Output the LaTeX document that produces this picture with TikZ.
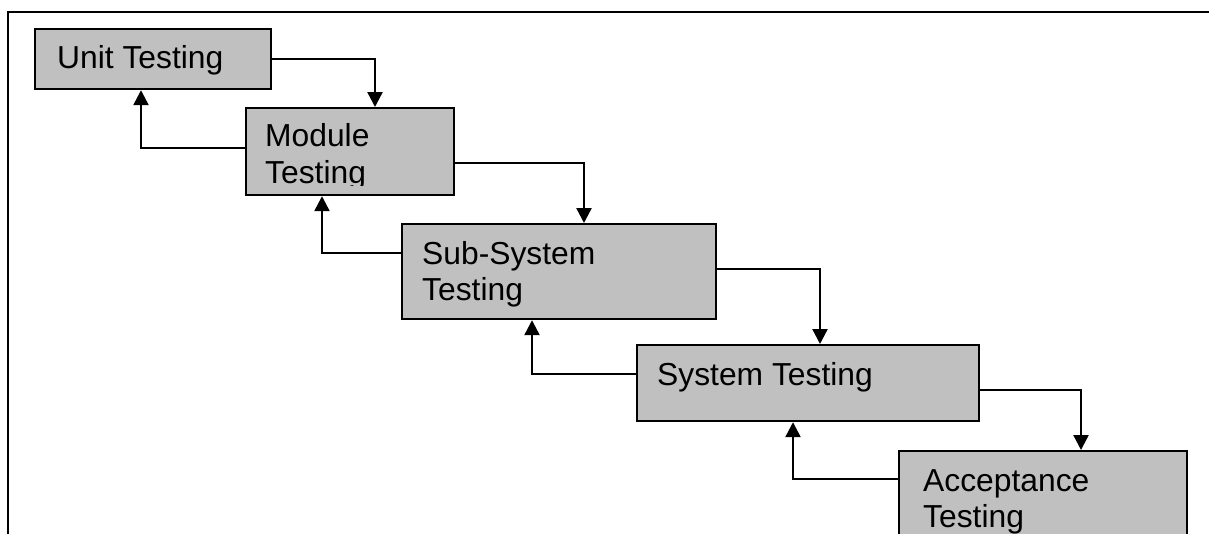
\documentclass[tikz,border=0pt]{standalone}
\usepackage{fontspec}
\setmainfont{Liberation Sans}
\usetikzlibrary{arrows.meta,calc}
\definecolor{stagegray}{HTML}{C0C0C0}
\tikzset{
  stagebox/.style={draw=black, line width=2.2pt, fill=stagegray, rectangle,
    inner sep=0pt, anchor=north west},
  stagetext/.style={anchor=base west, inner sep=0pt,
    font=\fontsize{31.8}{37}\selectfont, text=black},
  flow/.style={draw=black, line width=2.4pt,
    -{Triangle[length=15pt,width=15pt]}},
  frameline/.style={draw=black, line width=1.8pt},
}
\begin{document}
\begin{tikzpicture}[x=1pt,y=-1pt]
\useasboundingbox (0,0) rectangle (1209,533);
\clip (0,0) rectangle (1209,533);

% surrounding frame (left and top edges)
\coordinate (fb) at (8,545);
\coordinate (fc) at (8,12);
\coordinate (fr) at (1220,12);
\draw[frameline] (fb) -- (fc) -- (fr);

% stage boxes
\node[stagebox, minimum width=236pt, minimum height=60pt]  (unit) at (34,28)   {};
\node[stagebox, minimum width=208pt, minimum height=87pt]  (mod)  at (245,107) {};
\node[stagebox, minimum width=314pt, minimum height=95pt]  (sub)  at (401,223) {};
\node[stagebox, minimum width=342pt, minimum height=76pt]  (sys)  at (636,344) {};
\node[stagebox, minimum width=288pt, minimum height=120pt] (acc)  at (898,450) {};

% labels
\node[stagetext] (unitT) at (57,68) {Unit Testing};
\begin{scope}
  \clip (245,107) rectangle (453,185);
  \node[stagetext] (modT1) at (265,146) {Module};
  \node[stagetext] (modT2) at (265,183) {Testing};
\end{scope}
\node[stagetext] (subT1) at (422,264) {Sub-System};
\node[stagetext] (subT2) at (422,300) {Testing};
\node[stagetext] (sysT)  at (657,385) {System Testing};
\node[stagetext] (accT1) at (923,491) {Acceptance};
\node[stagetext] (accT2) at (923,527) {Testing};

% forward flow
\draw[flow] (unit.east) -| ($(mod.north west)+(130,0)$);
\draw[flow] ($(mod.north east)+(0,56)$) -| ($(sub.north west)+(183,0)$);
\draw[flow] ($(sub.north east)+(0,46)$) -| ($(sys.north west)+(184,0)$);
\draw[flow] ($(sys.north east)+(0,46)$) -| ($(acc.north west)+(183,0)$);

% feedback flow
\draw[flow] ($(mod.north west)+(0,41)$) -| ($(unit.south west)+(107,0)$);
\draw[flow] ($(sub.north west)+(0,30)$) -| ($(mod.south west)+(77,0)$);
\draw[flow] ($(sys.north west)+(0,30)$) -| ($(sub.south west)+(131,0)$);
\draw[flow] ($(acc.north west)+(0,29)$) -| ($(sys.south west)+(157,0)$);
\end{tikzpicture}
\end{document}
